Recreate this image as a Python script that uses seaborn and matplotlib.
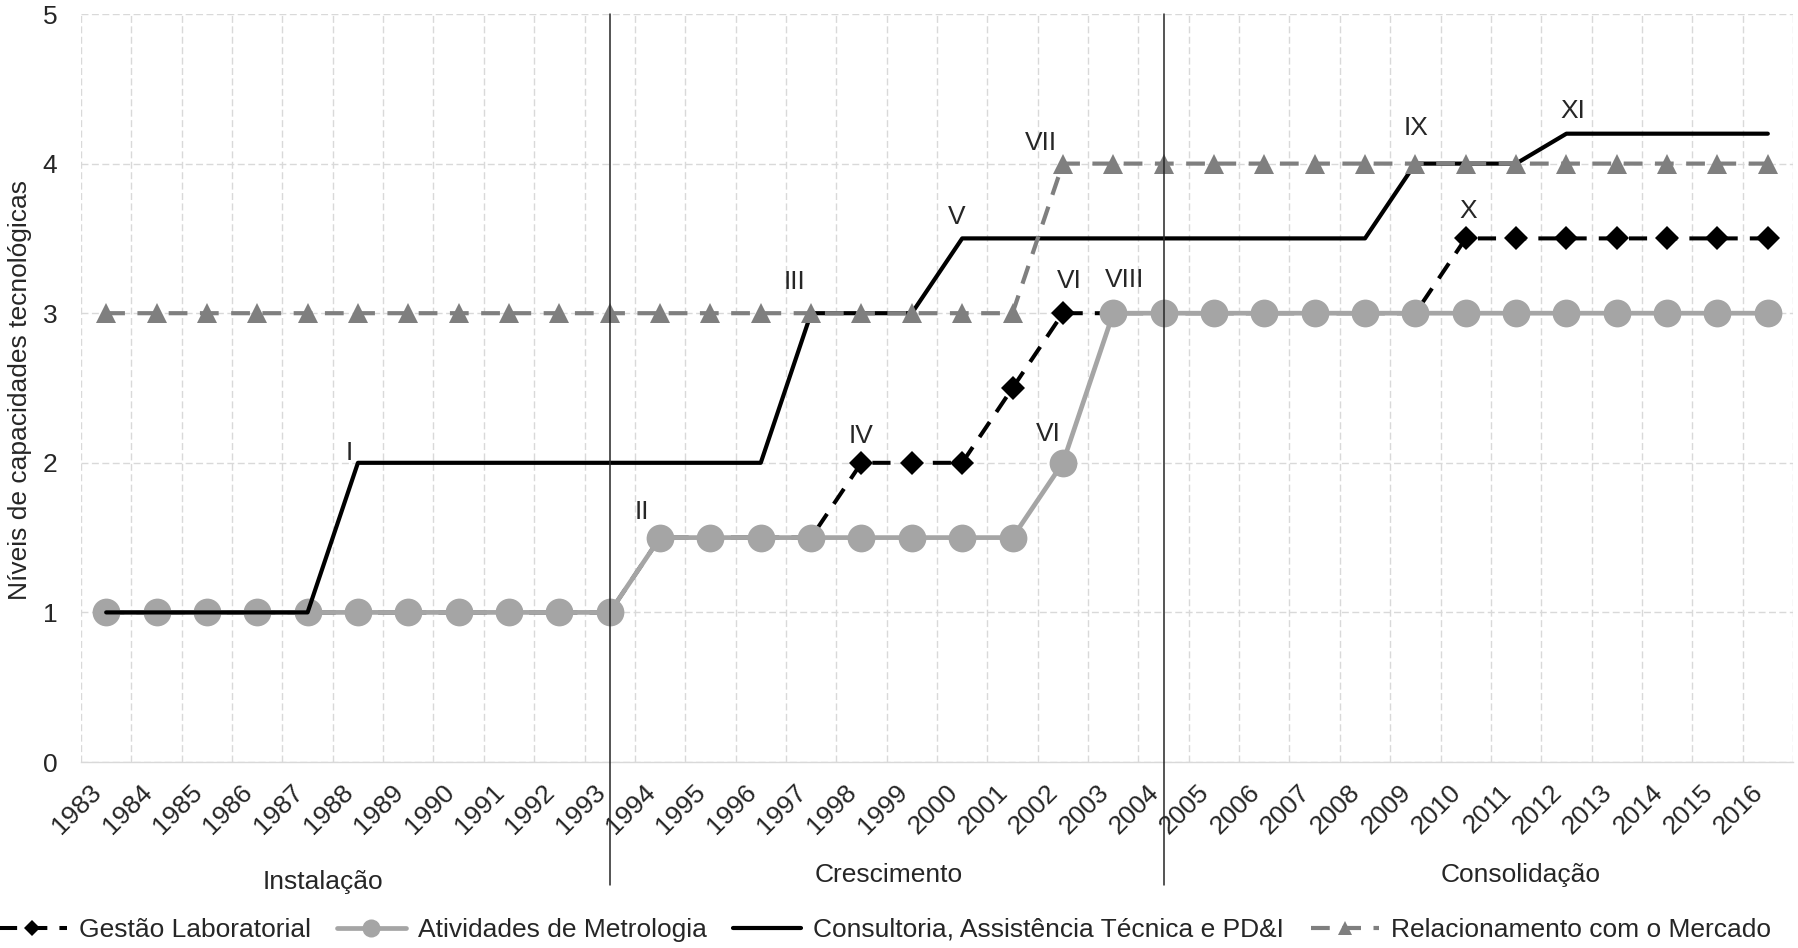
import matplotlib
matplotlib.use("Agg")
import matplotlib.pyplot as plt
import matplotlib.transforms as mtransforms
import pandas as pd
import seaborn as sns

# Anos (categorias do eixo x)
anos = ["1983", "1984", "1985", "1986", "1987", "1988", "1989", "1990", "1991",
        "1992", "1993", "1994", "1995", "1996", "1997", "1998", "1999", "2000",
        "2001", "2002", "2003", "2004", "2005", "2006", "2007", "2008", "2009",
        "2010", "2011", "2012", "2013", "2014", "2015", "2016"]

# Níveis de capacidade por função
gestao = [1, 1, 1, 1, 1, 1, 1, 1, 1, 1, 1, 1.5, 1.5, 1.5, 1.5, 2, 2, 2, 2.5, 3,
          3, 3, 3, 3, 3, 3, 3, 3.5, 3.5, 3.5, 3.5, 3.5, 3.5, 3.5]
metrologia = [1, 1, 1, 1, 1, 1, 1, 1, 1, 1, 1, 1.5, 1.5, 1.5, 1.5, 1.5, 1.5, 1.5,
              1.5, 2, 3, 3, 3, 3, 3, 3, 3, 3, 3, 3, 3, 3, 3, 3]
consultoria = [1, 1, 1, 1, 1, 2, 2, 2, 2, 2, 2, 2, 2, 2, 3, 3, 3, 3.5, 3.5, 3.5,
               3.5, 3.5, 3.5, 3.5, 3.5, 3.5, 4, 4, 4, 4.2, 4.2, 4.2, 4.2, 4.2]
relacionamento = [3, 3, 3, 3, 3, 3, 3, 3, 3, 3, 3, 3, 3, 3, 3, 3, 3, 3, 3, 4,
                  4, 4, 4, 4, 4, 4, 4, 4, 4, 4, 4, 4, 4, 4]

series_nomes = ["Gestão Laboratorial", "Atividades de Metrologia",
                "Consultoria, Assistência Técnica e PD&I",
                "Relacionamento com o Mercado"]

# Marcos de capacidade: (série, ano, rótulo)
marcos = [
    ("Consultoria, Assistência Técnica e PD&I", "1988", "I"),
    ("Atividades de Metrologia", "1994", "II"),
    ("Consultoria, Assistência Técnica e PD&I", "1997", "III"),
    ("Gestão Laboratorial", "1998", "IV"),
    ("Consultoria, Assistência Técnica e PD&I", "2000", "V"),
    ("Gestão Laboratorial", "2002", "VI"),
    ("Atividades de Metrologia", "2002", "VI"),
    ("Relacionamento com o Mercado", "2002", "VII"),
    ("Atividades de Metrologia", "2003", "VIII"),
    ("Consultoria, Assistência Técnica e PD&I", "2009", "IX"),
    ("Gestão Laboratorial", "2010", "X"),
    ("Consultoria, Assistência Técnica e PD&I", "2012", "XI"),
]

# Fases e anos de transição
fases = ["Instalação", "Crescimento", "Consolidação"]
anos_transicao = ["1993", "2004"]

sns.set_style("white")
plt.rcParams["font.family"] = ["Liberation Sans", "DejaVu Sans"]
FS = 19

df = pd.DataFrame({
    "ano": anos,
    "pos": range(len(anos)),
    series_nomes[0]: gestao,
    series_nomes[1]: metrologia,
    series_nomes[2]: consultoria,
    series_nomes[3]: relacionamento,
})

fig = plt.figure(figsize=(17.98, 9.48), dpi=100)
ax = fig.add_axes([0.04505, 0.1962, 0.95217, 0.78903])

estilos = {
    series_nomes[0]: dict(color="black", lw=2.9, linestyle=(0, (4.5, 3)),
                          marker="D", markersize=12.5, zorder=3),
    series_nomes[1]: dict(color="#a5a5a5", lw=3.4, linestyle="-",
                          marker="o", markersize=20, zorder=4),
    series_nomes[2]: dict(color="black", lw=3.0, linestyle="-",
                          marker=None, zorder=5),
    series_nomes[3]: dict(color="#7f7f7f", lw=3.0, linestyle=(0, (4.5, 3)),
                          marker="^", markersize=14.5, zorder=6),
}

for nome in series_nomes:
    st = dict(estilos[nome])
    sns.lineplot(data=df, x="pos", y=nome, ax=ax, label=nome,
                 markeredgewidth=0, errorbar=None, sort=False,
                 solid_capstyle="round", dash_capstyle="butt", **st)

# Eixos
n = len(anos)
ax.set_xlim(-0.5, n - 0.5)
ax.set_ylim(0, 5)
ax.set_xticks(range(n))
ax.set_xticklabels(anos, rotation=45, ha="right", fontsize=FS)
ax.set_xticks([i - 0.5 for i in range(n + 1)], minor=True)
ax.set_yticks([0, 1, 2, 3, 4, 5])
ax.set_yticklabels(["0", "1", "2", "3", "4", "5"], fontsize=FS)
ax.tick_params(axis="x", which="both", length=0, pad=13)
ax.tick_params(axis="y", length=0, pad=17)
ax.set_xlabel("")
ax.set_ylabel("")

grid_kw = dict(color="#d9d9d9", lw=1.0, linestyle=(0, (5, 2.5)))
ax.xaxis.grid(True, which="minor", **grid_kw)
ax.xaxis.grid(False, which="major")
ax.yaxis.grid(True, which="major", **grid_kw)
ax.set_axisbelow(True)

for s in ["top", "right", "left"]:
    ax.spines[s].set_visible(False)
ax.spines["bottom"].set_color("#d9d9d9")
ax.spines["bottom"].set_linewidth(1.0)
ax.spines["bottom"].set_zorder(0.5)

# Linhas de transição entre fases
trans = mtransforms.blended_transform_factory(ax.transData, ax.transAxes)
for ano in anos_transicao:
    xi = anos.index(ano)
    ax.plot([xi, xi], [1.0, -0.1645], transform=trans, color="#262626",
            lw=1.1, clip_on=False, zorder=7)

# Rótulos dos marcos
valores = {series_nomes[0]: gestao, series_nomes[1]: metrologia,
           series_nomes[2]: consultoria, series_nomes[3]: relacionamento}
deslocamentos = {
    "I": (-9, 10), "II": (-18, 26), "III": (-17, 31), "IV": (0, 27),
    "V": (-5, 21), "VII": (-22, 21), "VIII": (11, 33), "IX": (1, 36),
    "X": (3, 27), "XI": (6, 23),
}
for nome, ano, rot in marcos:
    xi = anos.index(ano)
    yv = valores[nome][xi]
    if rot == "VI":
        off = (6, 32) if nome == series_nomes[0] else (-15, 29)
    else:
        off = deslocamentos[rot]
    ax.annotate(rot, xy=(xi, yv), xytext=off, textcoords="offset pixels",
                ha="center", va="center", fontsize=FS, zorder=8)

# Nomes das fases
for txt, fx, fy in zip(fases, [0.1796, 0.4944, 0.8459], [0.0696, 0.0770, 0.0770]):
    fig.text(fx, fy, txt, ha="center", va="center", fontsize=FS)

# Título do eixo y
fig.text(0.0111, 0.589, "Níveis de capacidades tecnológicas", rotation=90,
         ha="center", va="center", fontsize=FS)

# Legenda
handles, labels = ax.get_legend_handles_labels()
leg = ax.get_legend()
if leg is not None:
    leg.remove()
fig.legend(handles, labels, loc="center", bbox_to_anchor=(0.492, 1 - 930 / 948),
           ncol=4, frameon=False, fontsize=FS, handlelength=2.6,
           handletextpad=0.45, columnspacing=1.0, markerscale=0.65)

fig.savefig("out.png", dpi=100)
